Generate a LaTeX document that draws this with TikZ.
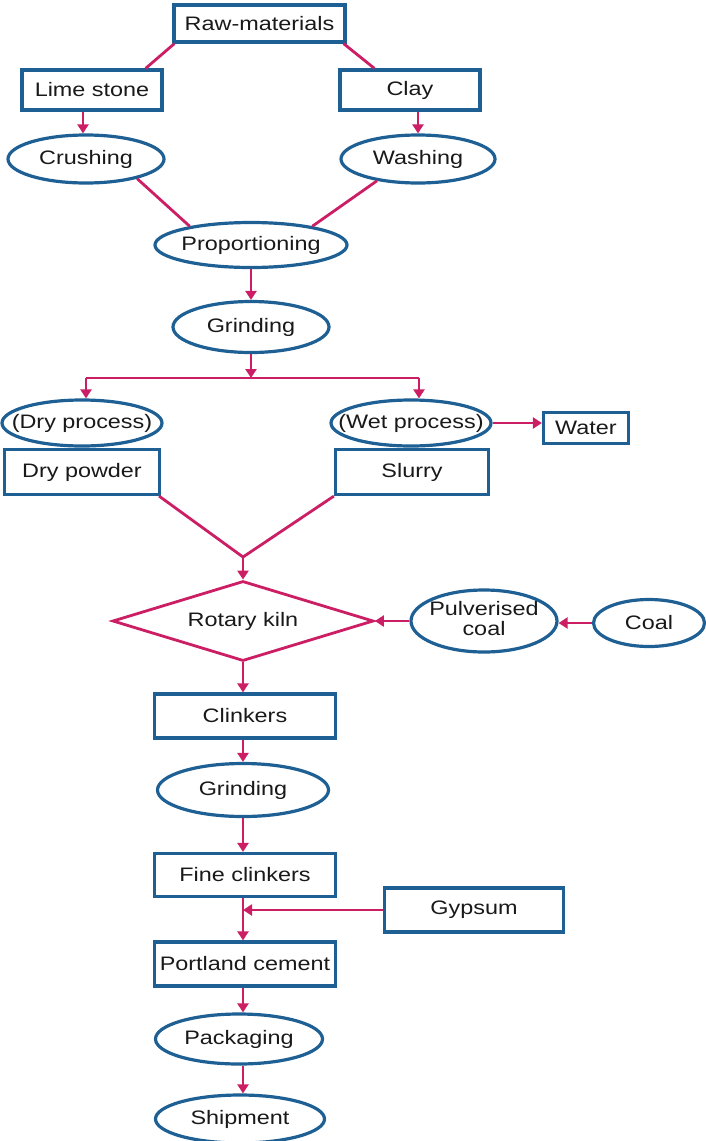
\documentclass[tikz,border=0pt]{standalone}
\usepackage{fontspec}
\setmainfont{Liberation Sans}[FakeStretch=1.2]
\usetikzlibrary{shapes.geometric,arrows.meta,calc}
\definecolor{bblue}{RGB}{30,96,148}
\definecolor{mag}{RGB}{204,30,100}
\newcommand{\zw}[1]{\makebox[0pt]{#1}}
\begin{document}
\begin{tikzpicture}[x=1pt,y=-1pt,
  every node/.style={font=\fontsize{19.5}{21}\selectfont, text=black!90},
  box/.style={draw=bblue,line width=3.2pt,rectangle,inner sep=0pt,fill=white},
  oval/.style={draw=bblue,line width=3.2pt,ellipse,inner sep=0pt,fill=white},
  kilnstyle/.style={draw=mag,line width=2.8pt,diamond,inner sep=0pt,aspect=3.26,fill=white},
  conn/.style={draw=mag,line width=2.8pt},
  arr/.style={conn,-{Triangle[length=9pt,width=11pt]}}]
\fill[white] (0,0) rectangle (706,1141);
\useasboundingbox (0,0) rectangle (706,1141);

% nodes
\node[box,minimum width=171pt,minimum height=37pt] (raw) at (259.5,23.5) {Raw-materials};
\node[box,minimum width=140pt,minimum height=40pt] (lime) at (92,90) {Lime stone};
\node[box,minimum width=140pt,minimum height=40pt] (clay) at (410,90) {Clay};
\node[oval,minimum width=156pt,minimum height=48pt] (crush) at (86,159) {\zw{Crushing}};
\node[oval,minimum width=154pt,minimum height=48pt] (wash) at (418,159) {\zw{Washing}};
\node[oval,minimum width=192pt,minimum height=45pt] (prop) at (251,245) {\zw{Proportioning}};
\node[oval,minimum width=156pt,minimum height=51pt] (grindA) at (251,327) {\zw{Grinding}};
\node[oval,minimum width=160pt,minimum height=46pt] (dryp) at (82,423) {\zw{(Dry process)}};
\node[oval,minimum width=160pt,minimum height=46pt] (wetp) at (411,423) {\zw{(Wet process)}};
\node[box,minimum width=85pt,minimum height=31pt] (water) at (586,428) {Water};
\node[box,minimum width=155pt,minimum height=45pt] (dryw) at (82,472) {Dry powder};
\node[box,minimum width=153pt,minimum height=45pt] (slurry) at (412,472) {Slurry};
\node[kilnstyle,minimum width=261pt,minimum height=80pt] (kiln) at (243,621) {Rotary kiln};
\node[oval,minimum width=146pt,minimum height=62pt] (pulv) at (484,621) {\zw{\raisebox{-3pt}{\begin{tabular}{@{}c@{}}Pulverised\\[-1pt]coal\end{tabular}}}};
\node[oval,minimum width=111pt,minimum height=47pt] (coal) at (649,623) {\zw{Coal}};
\node[box,minimum width=181pt,minimum height=44pt] (clink) at (245,716) {Clinkers};
\node[oval,minimum width=171pt,minimum height=53pt] (grindB) at (243,790) {\zw{Grinding}};
\node[box,minimum width=181pt,minimum height=43pt] (fine) at (245,875) {Fine clinkers};
\node[box,minimum width=179pt,minimum height=44pt] (gyp) at (474,910) {Gypsum};
\node[box,minimum width=181pt,minimum height=44pt] (port) at (245,964) {Portland cement};
\node[oval,minimum width=167pt,minimum height=50pt] (pack) at (239,1039) {\zw{Packaging}};
\node[oval,minimum width=169pt,minimum height=48pt] (ship) at (240,1119) {\zw{Shipment}};

% helper coordinates
\coordinate (junc) at (251,378);
\coordinate (jl) at (86,378);
\coordinate (jr) at (419,378);
\coordinate (apex) at (243,557);

% connectors
\draw[conn] ($(raw.south west)+(2,0)$) -- ($(lime.north east)+(-18,0)$);
\draw[conn] ($(raw.south east)+(-3,0)$) -- ($(clay.north west)+(36,0)$);
\draw[arr] ($(lime.south)+(-9,0)$) -- ($(crush.north)+(-3,0)$);
\draw[arr] (clay.south -| wash.north) -- (wash.north);
\draw[conn] (crush.-21) -- (prop.163);
\draw[conn] (wash.208) -- (prop.17);
\draw[arr] (prop.south) -- (grindA.north);
\draw[arr] (grindA.south) -- (junc);
\draw[conn] (jl) -- (jr);
\draw[arr] (jl) -- (jl |- dryp.north);
\draw[arr] (jr) -- (jr |- wetp.north);
\draw[arr] (wetp.east) -- (wetp.east -| water.west);
\draw[conn] ($(dryw.south east)+(-2,0)$) -- (apex);
\draw[conn] (slurry.south west) -- (apex);
\draw[arr] (apex) -- (kiln.north);
\draw[arr] (pulv.west) -- (kiln.east);
\draw[arr] (coal.west) -- (coal.west -| pulv.east);
\draw[arr] (kiln.south) -- (kiln.south |- clink.north);
\draw[arr] (clink.south -| grindB.north) -- (grindB.north);
\draw[arr] (grindB.south) -- (grindB.south |- fine.north);
\draw[arr] (fine.south -| grindB.south) -- (port.north -| grindB.south);
\draw[arr] (gyp.west) -- (gyp.west -| grindB.south);
\draw[arr] (port.south -| grindB.south) -- (grindB.south |- pack.north);
\draw[arr] (pack.south -| grindB.south) -- (grindB.south |- ship.north);
\end{tikzpicture}
\end{document}
